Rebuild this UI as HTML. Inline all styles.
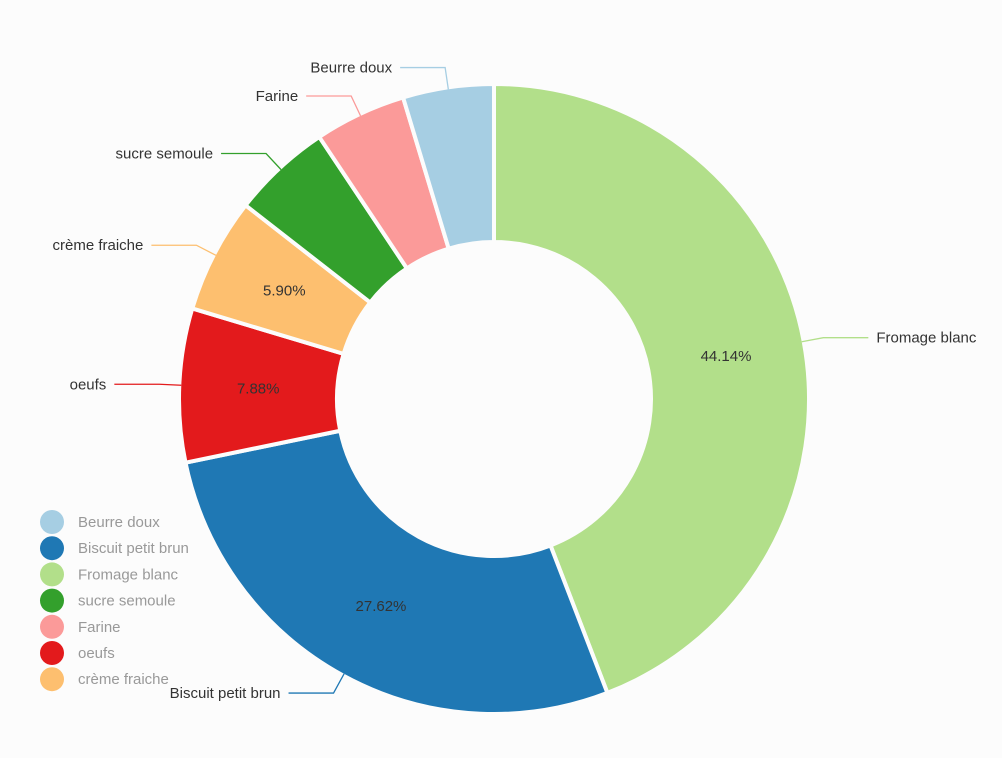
<!DOCTYPE html>
<html><head><meta charset="utf-8"><style>
html,body{margin:0;padding:0;background:#fcfcfc;}
svg{display:block;font-family:"Liberation Sans","DejaVu Sans",sans-serif;}
</style></head><body>
<svg id="chart" width="1002" height="758" viewBox="0 0 1002 758">
<g id="slices"></g>
<g id="labels"></g>
<g id="legend"></g>
</svg>
<script>
const categories = ["Fromage blanc","Biscuit petit brun","oeufs","crème fraiche","sucre semoule","Farine","Beurre doux"];
const values = [44.14, 27.62, 7.88, 5.90, 5.10, 4.70, 4.66];
const colors = ["#b2df8a","#1f78b4","#e31a1c","#fdbf6f","#33a02c","#fb9a99","#a6cee3"];
const legendOrder = ["Beurre doux","Biscuit petit brun","Fromage blanc","sucre semoule","Farine","oeufs","crème fraiche"];

const NS="http://www.w3.org/2000/svg";
const cx=494, cy=399, R=315, r=157;
const total=values.reduce((a,b)=>a+b,0);
function pt(a,rad){return [cx+rad*Math.sin(a), cy-rad*Math.cos(a)];}
function mk(tag,attrs,parent){const e=document.createElementNS(NS,tag);for(const k in attrs)e.setAttribute(k,attrs[k]);parent.appendChild(e);return e;}
const gS=document.getElementById('slices'), gL=document.getElementById('labels'), gG=document.getElementById('legend');
let acc=0;
values.forEach((v,i)=>{
  const a0=acc/total*2*Math.PI, a1=(acc+v)/total*2*Math.PI; acc+=v;
  const large=(a1-a0)>Math.PI?1:0;
  const [x0,y0]=pt(a0,R),[x1,y1]=pt(a1,R),[x2,y2]=pt(a1,r),[x3,y3]=pt(a0,r);
  const p=mk('path',{d:`M${x0},${y0}A${R},${R} 0 ${large} 1 ${x1},${y1}L${x2},${y2}A${r},${r} 0 ${large} 0 ${x3},${y3}Z`,fill:colors[i],stroke:'#fcfcfc','stroke-width':4,'stroke-linejoin':'round'},gS);
  
  
  const am=(a0+a1)/2;
  const pct=v/total*100;
  if(pct>=5.5){
    const [tx,ty]=pt(am,(R+r)/2);
    const t=mk('text',{x:tx,y:ty+5,'text-anchor':'middle','font-size':15,fill:'#333'},gL);
    t.textContent=pct.toFixed(2)+'%';
    
    
  }
  const [ax,ay]=pt(am,R-2),[bx,by]=pt(am,R+20);
  const right=Math.sin(am)>=0;
  const ex=bx+(right?45:-45);
  const l=mk('polyline',{points:`${ax},${ay} ${bx},${by} ${ex},${by}`,fill:'none',stroke:colors[i],'stroke-width':1.3},gL);
  
  
  const t2=mk('text',{x:ex+(right?8:-8),y:by+5,'text-anchor':right?'start':'end','font-size':15,fill:'#333'},gL);
  t2.textContent=categories[i];
  
  
});
legendOrder.forEach((name,j)=>{
  const i=categories.indexOf(name);
  const y=522+j*26.2;
  const c=mk('circle',{cx:52,cy:y,r:12,fill:colors[i]},gG);
  
  
  const t=mk('text',{x:78,y:y+5,'font-size':15,fill:'#999'},gG);
  t.textContent=name;
  
  
});
</script>
</body></html>
